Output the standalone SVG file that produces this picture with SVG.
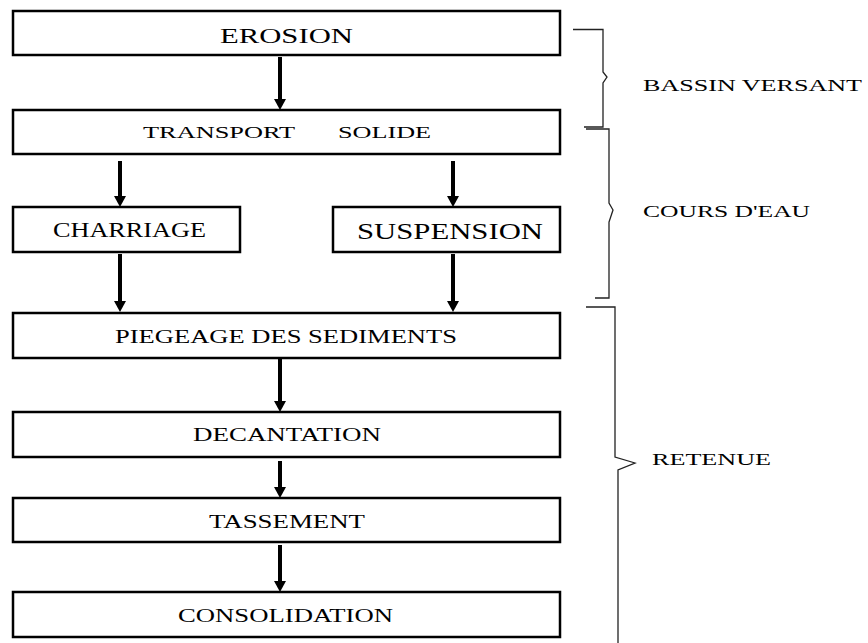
<svg xmlns="http://www.w3.org/2000/svg" width="868" height="643" viewBox="0 0 868 643">
<style>
.box{fill:#fff;stroke:#000;stroke-width:2.5}
.t{font-family:"Liberation Serif","Times New Roman",serif;fill:#000}
.lab{font-family:"Liberation Serif","Times New Roman",serif;fill:#000;font-size:16px}
.arr{stroke:#000;stroke-width:4;fill:none}
.br{stroke:#222;stroke-width:1.3;fill:none}
</style>
<defs>
<marker id="ah" viewBox="0 0 11 12" refX="0" refY="6" markerWidth="11" markerHeight="12" markerUnits="userSpaceOnUse" orient="auto">
<path d="M0,0 L11,6 L0,12 Z" fill="#000"/>
</marker>
</defs>
<rect width="868" height="643" fill="#fff"/>
<g id="connectors">
<line class="arr" x1="280" y1="57" x2="280" y2="99" marker-end="url(#ah)"/>
<line class="arr" x1="120" y1="161" x2="120" y2="196" marker-end="url(#ah)"/>
<line class="arr" x1="453" y1="161" x2="453" y2="196" marker-end="url(#ah)"/>
<line class="arr" x1="120" y1="254" x2="120" y2="301" marker-end="url(#ah)"/>
<line class="arr" x1="453" y1="254" x2="453" y2="301" marker-end="url(#ah)"/>
<line class="arr" x1="280" y1="359" x2="280" y2="401" marker-end="url(#ah)"/>
<line class="arr" x1="280" y1="461" x2="280" y2="487" marker-end="url(#ah)"/>
<line class="arr" x1="280" y1="545" x2="280" y2="581" marker-end="url(#ah)"/>
</g>
<g id="erosion">
<rect class="box" x="13" y="11" width="547" height="44"/>
<text class="t" x="220" y="43" font-size="21" textLength="133" lengthAdjust="spacingAndGlyphs">EROSION</text>
</g>
<g id="transport">
<rect class="box" x="13" y="110" width="547" height="44"/>
<text class="t" x="143" y="138" font-size="17.5" textLength="152" lengthAdjust="spacingAndGlyphs">TRANSPORT</text>
<text class="t" x="338" y="138" font-size="17.5" textLength="93" lengthAdjust="spacingAndGlyphs">SOLIDE</text>
</g>
<g id="charriage">
<rect class="box" x="13" y="207" width="227" height="45"/>
<text class="t" x="53" y="237" font-size="20" textLength="153" lengthAdjust="spacingAndGlyphs">CHARRIAGE</text>
</g>
<g id="suspension">
<rect class="box" x="333" y="207" width="227" height="45"/>
<text class="t" x="357" y="239" font-size="24" textLength="186" lengthAdjust="spacingAndGlyphs">SUSPENSION</text>
</g>
<g id="piegeage">
<rect class="box" x="13" y="313" width="547" height="45"/>
<text class="t" x="115" y="343" font-size="19" textLength="342" lengthAdjust="spacingAndGlyphs">PIEGEAGE DES SEDIMENTS</text>
</g>
<g id="decantation">
<rect class="box" x="13" y="412" width="547" height="45"/>
<text class="t" x="193" y="441" font-size="19" textLength="188" lengthAdjust="spacingAndGlyphs">DECANTATION</text>
</g>
<g id="tassement">
<rect class="box" x="13" y="498" width="547" height="44"/>
<text class="t" x="209" y="528" font-size="19" textLength="156" lengthAdjust="spacingAndGlyphs">TASSEMENT</text>
</g>
<g id="consolidation">
<rect class="box" x="13" y="592" width="547" height="45"/>
<text class="t" x="178" y="622" font-size="19" textLength="215" lengthAdjust="spacingAndGlyphs">CONSOLIDATION</text>
</g>
<g id="bassin-versant">
<path class="br" d="M573,29.5 H603 V72 L607,77 L603,83 V127 H584"/>
<text class="lab" x="643" y="91" textLength="219" lengthAdjust="spacingAndGlyphs">BASSIN VERSANT</text>
</g>
<g id="cours-deau">
<path class="br" d="M586,129 H609 V203 L613,210 L609,222 V298 H595"/>
<text class="lab" x="643" y="217" textLength="167" lengthAdjust="spacingAndGlyphs">COURS D'EAU</text>
</g>
<g id="retenue">
<path class="br" d="M586,307 H615 V457 L635,463 L618,470 V643"/>
<text class="lab" x="652" y="465" textLength="119" lengthAdjust="spacingAndGlyphs">RETENUE</text>
</g>
</svg>
